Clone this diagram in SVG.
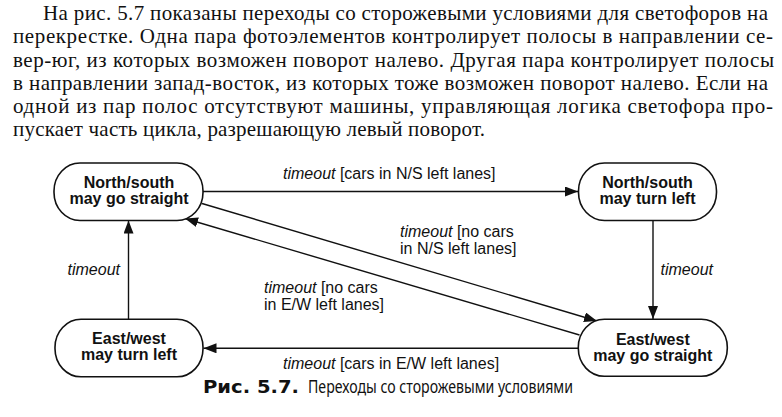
<svg xmlns="http://www.w3.org/2000/svg" width="782" height="417" viewBox="0 0 782 417">
<style>
.para{font-family:"Liberation Serif",serif;font-size:21px;fill:#111}
.node rect{fill:#fff;stroke:#111;stroke-width:1.6}
.nt{font-family:"Liberation Sans",Arial,sans-serif;font-size:16px;font-weight:bold;fill:#111;text-anchor:middle}
.lbl{font-family:"Liberation Sans",Arial,sans-serif;font-size:16px;fill:#111}
.it{font-style:italic}
.conn line{stroke:#111;stroke-width:1.4;fill:none}
.cap{font-family:"Noto Sans","Open Sans",sans-serif;fill:#111}
.capb{font-family:"DejaVu Sans","Noto Sans",sans-serif;font-weight:bold;fill:#111}
</style>
<defs>
<marker id="ah" markerUnits="userSpaceOnUse" markerWidth="14" markerHeight="12" refX="13" refY="5" orient="auto">
<path d="M0,0 L13,5 L0,10 Z" fill="#111"/>
</marker>
</defs>
<rect width="782" height="417" fill="#fff"/>
<g id="paragraph">
<text class="para" x="43" y="20" textLength="725" lengthAdjust="spacing">На рис. 5.7 показаны переходы со сторожевыми условиями для светофоров на</text>
<text class="para" x="13" y="43.3" textLength="760" lengthAdjust="spacing">перекрестке. Одна пара фотоэлементов контролирует полосы в направлении се-</text>
<text class="para" x="13" y="66.5" textLength="761" lengthAdjust="spacing">вер-юг, из которых возможен поворот налево. Другая пара контролирует полосы</text>
<text class="para" x="13" y="89.7" textLength="755" lengthAdjust="spacing">в направлении запад-восток, из которых тоже возможен поворот налево. Если на</text>
<text class="para" x="13" y="113" textLength="760" lengthAdjust="spacing">одной из пар полос отсутствуют машины, управляющая логика светофора про-</text>
<text class="para" x="13" y="136" textLength="472" lengthAdjust="spacing">пускает часть цикла, разрешающую левый поворот.</text>
</g>
<g id="connectors" class="conn">
<line x1="203" y1="191.5" x2="578" y2="191.5" marker-end="url(#ah)"/>
<line x1="653" y1="220.5" x2="653" y2="319" marker-end="url(#ah)"/>
<line x1="578" y1="348.3" x2="203.5" y2="348.3" marker-end="url(#ah)"/>
<line x1="128.5" y1="319.3" x2="128.5" y2="220.5" marker-end="url(#ah)"/>
<line x1="202" y1="203.5" x2="597" y2="321" marker-end="url(#ah)"/>
<line x1="579.5" y1="335" x2="185" y2="218.5" marker-end="url(#ah)"/>
</g>
<g id="labels">
<text class="lbl" x="283" y="179"><tspan class="it">timeout</tspan> [cars in N/S left lanes]</text>
<text class="lbl" x="400" y="237"><tspan class="it">timeout</tspan> [no cars</text>
<text class="lbl" x="400" y="254">in N/S left lanes]</text>
<text class="lbl" x="264" y="292.5"><tspan class="it">timeout</tspan> [no cars</text>
<text class="lbl" x="264" y="310">in E/W left lanes]</text>
<text class="lbl" x="283" y="369"><tspan class="it">timeout</tspan> [cars in E/W left lanes]</text>
<text class="lbl it" x="120" y="275" text-anchor="end">timeout</text>
<text class="lbl it" x="660.5" y="275">timeout</text>
</g>
<g id="ns-straight" class="node">
<rect x="54" y="163" width="149" height="57.5" rx="26" ry="28"/>
<text class="nt" x="129" y="188">North/south</text>
<text class="nt" x="129" y="204">may go straight</text>
</g>
<g id="ns-left" class="node">
<rect x="578.5" y="163" width="138" height="57.5" rx="26" ry="28"/>
<text class="nt" x="647.5" y="188">North/south</text>
<text class="nt" x="647.5" y="204">may turn left</text>
</g>
<g id="ew-left" class="node">
<rect x="55" y="319.3" width="148" height="57.5" rx="26" ry="28"/>
<text class="nt" x="129" y="344">East/west</text>
<text class="nt" x="129" y="360">may turn left</text>
</g>
<g id="ew-straight" class="node">
<rect x="578.3" y="319.3" width="149" height="57" rx="26" ry="28"/>
<text class="nt" x="652.8" y="344.5">East/west</text>
<text class="nt" x="652.8" y="360.5">may go straight</text>
</g>
<g id="caption">
<text class="capb" x="203" y="393" font-size="17.5" textLength="96" lengthAdjust="spacingAndGlyphs">Рис. 5.7.</text>
<text class="cap" x="308" y="393" font-size="18" textLength="265" lengthAdjust="spacingAndGlyphs">Переходы со сторожевыми условиями</text>
</g>
</svg>
